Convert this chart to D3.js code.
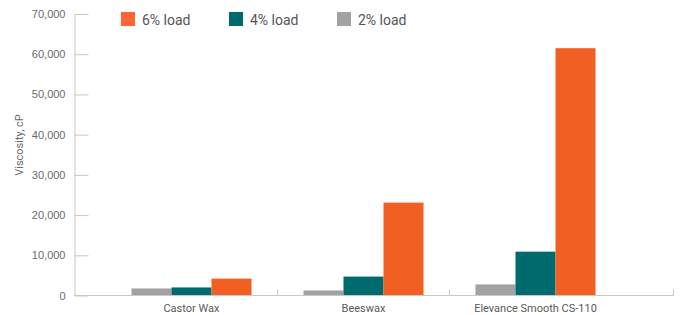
<!DOCTYPE html>
<html>
<head>
<meta charset="utf-8">
<script src="https://cdn.jsdelivr.net/npm/d3@7"></script>
<style>
  body { margin: 0; background: #fff; }
  svg { display: block; font-family: Roboto, "DejaVu Sans", sans-serif; }
</style>
</head>
<body>
<svg id="chart"></svg>
<script>
const categories = ['Castor Wax', 'Beeswax', 'Elevance Smooth CS-110'];
const load2 = [1750, 1250, 2750];
const load4 = [2000, 4700, 10900];
const load6 = [4200, 23100, 61500];
const yTicks = [0, 10000, 20000, 30000, 40000, 50000, 60000, 70000];

const series = [
  {key: '2% load', values: load2, color: '#a2a2a2'},
  {key: '4% load', values: load4, color: '#006b6e'},
  {key: '6% load', values: load6, color: '#f15f22'}
];
const legendItems = [
  {key: '6% load', color: '#ff6633'},
  {key: '4% load', color: '#006b6e'},
  {key: '2% load', color: '#a2a2a2'}
];

const width = 683, height = 315;
const axisX = 74.5, axisEnd = 674, baseY = 295.5, topY = 14;

const svg = d3.select('#chart')
  .attr('width', width)
  .attr('height', height);

const y = d3.scaleLinear()
  .domain([0, 70000])
  .range([baseY, topY]);

const x0 = d3.scaleBand()
  .domain(categories)
  .range([105.5, 621.5])
  .paddingInner(0.302)
  .paddingOuter(0.151);

const x1 = d3.scaleBand()
  .domain(series.map(s => s.key))
  .range([0, x0.bandwidth()]);

// y axis
const yAxis = svg.append('g')
  .attr('transform', `translate(${axisX},0)`)
  .call(d3.axisLeft(y).tickValues(yTicks).tickSizeInner(-14).tickSizeOuter(0)
    .tickPadding(9).tickFormat(d3.format(',')));
yAxis.select('.domain').attr('stroke', '#c8c8c8');
yAxis.selectAll('.tick line').attr('stroke', '#c8c8c8');
yAxis.selectAll('.tick text')
  .attr('fill', '#6a6a6a')
  .style('font-size', '11px');

svg.append('text')
  .attr('transform', `translate(23,145) rotate(-90)`)
  .attr('text-anchor', 'middle')
  .attr('fill', '#6a6a6a')
  .style('font-size', '11px')
  .text('Viscosity, cP');

// bars
const groups = svg.selectAll('g.group')
  .data(categories)
  .enter()
  .append('g')
  .attr('class', 'group')
  .attr('transform', d => `translate(${x0(d)},0)`);

groups.selectAll('rect')
  .data((d, i) => series.map(s => ({key: s.key, value: s.values[i], color: s.color})))
  .enter()
  .append('rect')
  .attr('x', d => x1(d.key))
  .attr('y', d => y(d.value))
  .attr('width', x1.bandwidth())
  .attr('height', d => baseY - y(d.value))
  .attr('fill', d => d.color);

// x axis baseline + separators
svg.append('line')
  .attr('x1', axisX).attr('x2', axisEnd)
  .attr('y1', baseY).attr('y2', baseY)
  .attr('stroke', '#c8c8c8');

const gap = x0.step() - x0.bandwidth();
const seps = categories.slice(0, -1).map(c => x0(c) + x0.bandwidth() + gap / 2);
seps.push(axisEnd - 0.5);
svg.selectAll('line.sep')
  .data(seps)
  .enter()
  .append('line')
  .attr('class', 'sep')
  .attr('x1', d => d).attr('x2', d => d)
  .attr('y1', baseY - 6).attr('y2', baseY)
  .attr('stroke', '#c8c8c8');

svg.selectAll('text.cat')
  .data(categories)
  .enter()
  .append('text')
  .attr('class', 'cat')
  .attr('x', d => x0(d) + x0.bandwidth() / 2)
  .attr('y', 312)
  .attr('text-anchor', 'middle')
  .attr('fill', '#5a5a5a')
  .style('font-size', '11px')
  .text(d => d);

// legend
const legend = svg.selectAll('g.legend')
  .data(legendItems)
  .enter()
  .append('g')
  .attr('class', 'legend')
  .attr('transform', (d, i) => `translate(${121 + i * 108},12)`);

legend.append('rect')
  .attr('width', 14).attr('height', 14)
  .attr('fill', d => d.color);

legend.append('text')
  .attr('x', 21).attr('y', 13)
  .attr('fill', '#555')
  .style('font-size', '14px')
  .text(d => d.key);
</script>
</body>
</html>
